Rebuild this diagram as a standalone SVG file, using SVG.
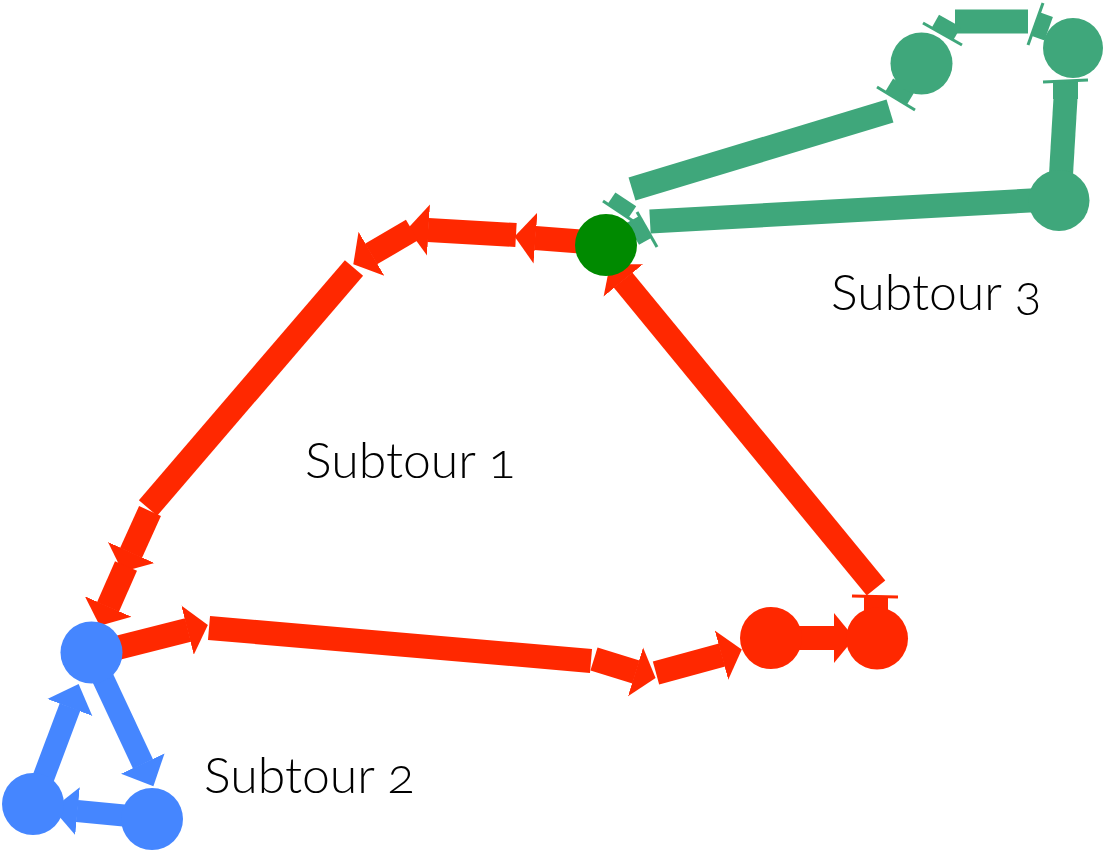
<svg xmlns="http://www.w3.org/2000/svg" width="1103" height="851" viewBox="0 0 1103 851">
  <style>
    .red { stroke: #ff2800; stroke-width: 24; fill: none; stroke-linecap: butt; }
    .blue { stroke: #4586ff; stroke-width: 22; fill: none; stroke-linecap: butt; }
    .grn { stroke: #3fa77b; stroke-width: 24; fill: none; stroke-linecap: butt; }
    .gbar { stroke: #3fa77b; stroke-width: 3; fill: none; }
    .gfill { fill: #3fa77b; }
    .rfill { fill: #ff2800; }
    .rbar { stroke: #ff2800; stroke-width: 3; fill: none; }
    .label { font-family: Lato, "Open Sans", "Liberation Sans", sans-serif; font-size: 50px; font-weight: 300; fill: #000; font-variant-numeric: oldstyle-nums; }
  </style>
  <defs>
    <marker id="redHead" markerUnits="userSpaceOnUse" viewBox="0 -27 23 54" markerWidth="23" markerHeight="54" refX="0.5" refY="0" orient="auto">
      <path d="M0,-25.5 L21,0 L0,25.5 Z" fill="#ff2800"/>
    </marker>
    <marker id="blueHead" markerUnits="userSpaceOnUse" viewBox="0 -26 27 52" markerWidth="27" markerHeight="52" refX="0.5" refY="0" orient="auto">
      <path d="M0,-24 L25,0 L0,24 Z" fill="#4586ff"/>
    </marker>
  </defs>

  <!-- connectors -->
  <g id="connectors">
    <!-- subtour 1 (red) -->
    <path class="red" d="M600,243 L535,238" marker-end="url(#redHead)"/>
    <path class="red" d="M516,235 L428,230" marker-end="url(#redHead)"/>
    <path class="red" d="M412,230 L371,254" marker-end="url(#redHead)"/>
    <path class="red" d="M354,268 L148,508"/>
    <path class="red" d="M150,511 L131,553" marker-end="url(#redHead)"/>
    <path class="red" d="M126,566 L108,607" marker-end="url(#redHead)"/>
    <path class="red" d="M105,651 L188,630" marker-end="url(#redHead)"/>
    <path class="red" d="M209,628 L591,661"/>
    <path class="red" d="M594,659 L636,672" marker-end="url(#redHead)"/>
    <path class="red" d="M656,673 L722,655" marker-end="url(#redHead)"/>
    <path class="red" d="M790,638 L834,638" marker-end="url(#redHead)"/>
    <path class="red" d="M876,588 L623,280" marker-end="url(#redHead)"/>
    <rect class="rfill" x="864" y="597" width="24" height="16"/>
    <line class="rbar" x1="852" y1="596" x2="898" y2="597"/>

    <!-- subtour 2 (blue) -->
    <path class="blue" d="M35,800 L70,707" marker-end="url(#blueHead)"/>
    <path class="blue" d="M92,655 L143,764" marker-end="url(#blueHead)"/>
    <path class="blue" d="M150,818 L77,811" marker-end="url(#blueHead)"/>

    <!-- subtour 3 (green) -->
    <path class="grn" d="M955,21.5 L1028,21.5"/>
    <path class="grn" d="M890,111 L632,189"/>
    <path class="grn" d="M650,221.5 L1058,199"/>
    <path class="grn" d="M1065.5,98 L1059.5,200"/>
    <!-- flattened heads -->
    <polygon class="gfill" points="931.6,27.9 953.4,40.1 960.8,27 939,14.8"/>
    <line class="gbar" x1="923" y1="23" x2="962" y2="45"/>
    <polygon class="gfill" points="885.3,91.4 906.7,104.9 914.5,92.1 893.1,78.6"/>
    <line class="gbar" x1="877" y1="87" x2="915" y2="110"/>
    <polygon class="gfill" points="1039.7,12.2 1031.3,35.8 1044.5,40.5 1052.9,16.9"/>
    <line class="gbar" x1="1028" y1="45" x2="1043" y2="3"/>
    <polygon class="gfill" points="1053,82 1078,82 1078,99 1053,99"/>
    <line class="gbar" x1="1043" y1="82" x2="1088" y2="80"/>
    <polygon class="gfill" points="607.6,204.1 628.4,217.9 636.2,206.3 615.4,192.5"/>
    <line class="gbar" x1="603" y1="201" x2="633" y2="221"/>
    <polygon class="gfill" points="638.8,216.2 651.2,237.9 639,244.8 626.6,223.1"/>
    <line class="gbar" x1="637" y1="212" x2="657" y2="247"/>
  </g>

  <!-- nodes -->
  <g id="node-depot"><circle cx="606" cy="245" r="31" fill="#008a00"/></g>
  <g id="node-r1"><circle cx="771" cy="638" r="31" fill="#ff2800"/></g>
  <g id="node-r2"><circle cx="877" cy="638.5" r="31" fill="#ff2800"/></g>
  <g id="node-b1"><circle cx="91.5" cy="652.5" r="31" fill="#4586ff"/></g>
  <g id="node-b2"><circle cx="33" cy="804" r="31" fill="#4586ff"/></g>
  <g id="node-b3"><circle cx="152" cy="819" r="31" fill="#4586ff"/></g>
  <g id="node-g1"><circle cx="921.5" cy="63.5" r="31" fill="#3fa77b"/></g>
  <g id="node-g2"><circle cx="1073" cy="48" r="30" fill="#3fa77b"/></g>
  <g id="node-g3"><circle cx="1059" cy="200.5" r="30.5" fill="#3fa77b"/></g>

  <!-- labels -->
  <g id="labels">
    <text class="label" x="305" y="478">Subtour 1</text>
    <text class="label" x="204" y="793">Subtour 2</text>
    <text class="label" x="831" y="310">Subtour 3</text>
  </g>
</svg>
